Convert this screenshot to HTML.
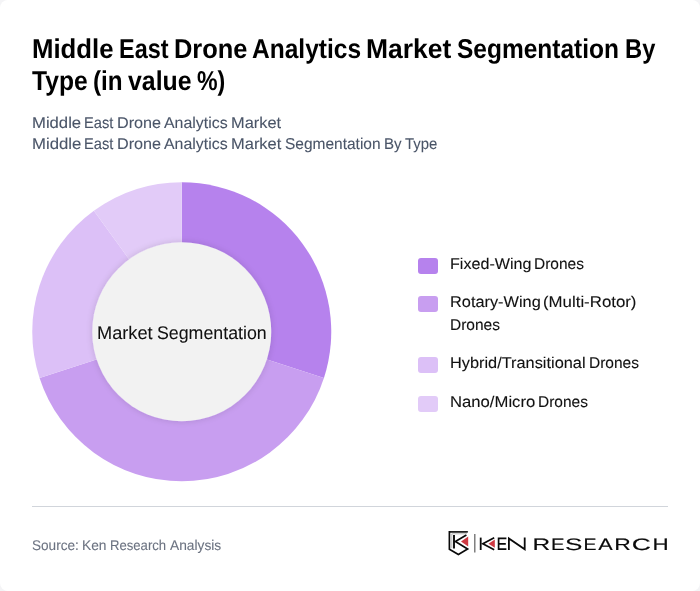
<!DOCTYPE html>
<html>
<head>
<meta charset="utf-8">
<style>
*{margin:0;padding:0;box-sizing:border-box;}
html,body{width:700px;height:591px;overflow:hidden;background:#f4f4f6;}
body{font-family:"Liberation Sans",sans-serif;position:relative;text-rendering:geometricPrecision;}
.card{position:absolute;left:0;top:0;width:700px;height:591px;background:#fff;border-radius:8px;}
.t{position:absolute;white-space:nowrap;line-height:1;}
#wrap{position:absolute;left:0;top:0;width:700px;height:591px;will-change:transform;}
.title1,.title2,#title1,#title2{font-weight:bold;color:#000;}
#sub1,#sub2,.sub1,.sub2{color:#4a5568;}
#leg1,#leg2a,#leg2b,#leg3,#leg4,.leg1,.leg2a,.leg2b,.leg3,.leg4{color:#111;}
#center,.center{color:#111;}
#source,.source{color:#6b7280;}
.sq{position:absolute;left:418px;width:20px;height:16px;border-radius:3px;}
.hr{position:absolute;left:32px;top:506px;width:636px;height:1px;background:#d1d5db;}
</style>
</head>
<body>
<div id="wrap">
<div class="card"></div>
<svg style="position:absolute;left:0;top:0;" width="700" height="591" viewBox="0 0 700 591">
<defs>
<filter id="sh" x="-30%" y="-30%" width="160%" height="160%">
<feGaussianBlur in="SourceAlpha" stdDeviation="3.5"/>
<feComponentTransfer><feFuncA type="linear" slope="0.14"/></feComponentTransfer>
<feMerge><feMergeNode/><feMergeNode in="SourceGraphic"/></feMerge>
</filter>
</defs>
<path d="M181.75 331.75L181.75 182.25A149.5 149.5 0 0 1 323.93 377.95Z" fill="#b682ed"/>
<path d="M181.75 331.75L323.93 377.95A149.5 149.5 0 0 1 39.57 377.95Z" fill="#c89ef0"/>
<path d="M181.75 331.75L39.57 377.95A149.5 149.5 0 0 1 93.88 210.80Z" fill="#dcc0f7"/>
<path d="M181.75 331.75L93.88 210.80A149.5 149.5 0 0 1 181.75 182.25Z" fill="#e2cbf8"/>
<circle cx="181.75" cy="331.75" r="89.5" fill="#f2f2f2" filter="url(#sh)"/>
</svg>
<div class="sq" style="top:258px;background:#b682ed;"></div>
<div class="sq" style="top:296px;background:#c89ef0;"></div>
<div class="sq" style="top:357px;background:#dcc0f7;"></div>
<div class="sq" style="top:396px;background:#e2cbf8;"></div>
<div class="t title1" id="title1_0" style="left:31.61px;top:34.50px;font-size:27.2px;letter-spacing:0.000px;transform:scaleX(0.9475);transform-origin:0 0;">Middle</div>
<div class="t title1" id="title1_1" style="left:118.72px;top:34.50px;font-size:27.2px;letter-spacing:0.000px;transform:scaleX(0.8619);transform-origin:0 0;">East</div>
<div class="t title1" id="title1_2" style="left:173.61px;top:34.50px;font-size:27.2px;letter-spacing:0.000px;transform:scaleX(0.9351);transform-origin:0 0;">Drone</div>
<div class="t title1" id="title1_3" style="left:251.65px;top:34.50px;font-size:27.2px;letter-spacing:0.000px;transform:scaleX(0.9021);transform-origin:0 0;">Analytics</div>
<div class="t title1" id="title1_4" style="left:365.65px;top:34.50px;font-size:27.2px;letter-spacing:0.000px;transform:scaleX(0.9740);transform-origin:0 0;">Market</div>
<div class="t title1" id="title1_5" style="left:456.71px;top:34.50px;font-size:27.2px;letter-spacing:0.000px;transform:scaleX(0.9013);transform-origin:0 0;">Segmentation</div>
<div class="t title1" id="title1_6" style="left:624.73px;top:34.50px;font-size:27.2px;letter-spacing:0.000px;transform:scaleX(0.8724);transform-origin:0 0;">By</div>
<div class="t title2" id="title2_0" style="left:31.50px;top:66.70px;font-size:27.2px;letter-spacing:0.000px;transform:scaleX(0.9051);transform-origin:0 0;">Type</div>
<div class="t title2" id="title2_1" style="left:92.67px;top:66.70px;font-size:27.2px;letter-spacing:0.000px;transform:scaleX(0.8913);transform-origin:0 0;">(in</div>
<div class="t title2" id="title2_2" style="left:127.58px;top:66.70px;font-size:27.2px;letter-spacing:0.000px;transform:scaleX(0.9145);transform-origin:0 0;">value</div>
<div class="t title2" id="title2_3" style="left:196.50px;top:66.70px;font-size:27.2px;letter-spacing:0.000px;transform:scaleX(0.8520);transform-origin:0 0;">%)</div>
<div class="t sub1" id="sub1_0" style="left:31.72px;top:115.50px;font-size:15.7px;letter-spacing:0.000px;transform:scaleX(1.0630);transform-origin:0 0;-webkit-text-stroke:0.1px currentColor;">Middle</div>
<div class="t sub1" id="sub1_1" style="left:83.50px;top:115.50px;font-size:15.7px;letter-spacing:0.000px;transform:scaleX(0.9358);transform-origin:0 0;-webkit-text-stroke:0.1px currentColor;">East</div>
<div class="t sub1" id="sub1_2" style="left:116.67px;top:115.50px;font-size:15.7px;letter-spacing:0.000px;transform:scaleX(1.0326);transform-origin:0 0;-webkit-text-stroke:0.1px currentColor;">Drone</div>
<div class="t sub1" id="sub1_3" style="left:163.59px;top:115.50px;font-size:15.7px;letter-spacing:0.000px;transform:scaleX(1.0133);transform-origin:0 0;-webkit-text-stroke:0.1px currentColor;">Analytics</div>
<div class="t sub1" id="sub1_4" style="left:230.50px;top:115.50px;font-size:15.7px;letter-spacing:0.000px;transform:scaleX(1.0448);transform-origin:0 0;-webkit-text-stroke:0.1px currentColor;">Market</div>
<div class="t sub2" id="sub2_0" style="left:31.72px;top:136.50px;font-size:15.7px;letter-spacing:0.000px;transform:scaleX(1.0678);transform-origin:0 0;-webkit-text-stroke:0.1px currentColor;">Middle</div>
<div class="t sub2" id="sub2_1" style="left:83.50px;top:136.50px;font-size:15.7px;letter-spacing:0.000px;transform:scaleX(0.9357);transform-origin:0 0;-webkit-text-stroke:0.1px currentColor;">East</div>
<div class="t sub2" id="sub2_2" style="left:116.67px;top:136.50px;font-size:15.7px;letter-spacing:0.000px;transform:scaleX(1.0327);transform-origin:0 0;-webkit-text-stroke:0.1px currentColor;">Drone</div>
<div class="t sub2" id="sub2_3" style="left:163.60px;top:136.50px;font-size:15.7px;letter-spacing:0.000px;transform:scaleX(1.0131);transform-origin:0 0;-webkit-text-stroke:0.1px currentColor;">Analytics</div>
<div class="t sub2" id="sub2_4" style="left:230.50px;top:136.50px;font-size:15.7px;letter-spacing:0.000px;transform:scaleX(1.0501);transform-origin:0 0;-webkit-text-stroke:0.1px currentColor;">Market</div>
<div class="t sub2" id="sub2_5" style="left:284.58px;top:136.50px;font-size:15.7px;letter-spacing:0.000px;transform:scaleX(0.9871);transform-origin:0 0;-webkit-text-stroke:0.1px currentColor;">Segmentation</div>
<div class="t sub2" id="sub2_6" style="left:383.67px;top:136.50px;font-size:15.7px;letter-spacing:0.000px;transform:scaleX(0.9623);transform-origin:0 0;-webkit-text-stroke:0.1px currentColor;">By</div>
<div class="t sub2" id="sub2_7" style="left:404.55px;top:136.50px;font-size:15.7px;letter-spacing:0.000px;transform:scaleX(0.9495);transform-origin:0 0;-webkit-text-stroke:0.1px currentColor;">Type</div>
<div class="t leg1" id="leg1_0" style="left:449.50px;top:257.20px;font-size:15.6px;letter-spacing:0.000px;transform:scaleX(1.0332);transform-origin:0 0;-webkit-text-stroke:0.1px currentColor;">Fixed-Wing</div>
<div class="t leg1" id="leg1_1" style="left:533.63px;top:257.20px;font-size:15.6px;letter-spacing:0.000px;transform:scaleX(0.9935);transform-origin:0 0;-webkit-text-stroke:0.1px currentColor;">Drones</div>
<div class="t leg2a" id="leg2a_0" style="left:449.50px;top:295.20px;font-size:15.6px;letter-spacing:0.000px;transform:scaleX(1.0476);transform-origin:0 0;-webkit-text-stroke:0.1px currentColor;">Rotary-Wing</div>
<div class="t leg2a" id="leg2a_1" style="left:542.55px;top:295.20px;font-size:15.6px;letter-spacing:0.000px;transform:scaleX(1.0789);transform-origin:0 0;-webkit-text-stroke:0.1px currentColor;">(Multi-Rotor)</div>
<div class="t leg2b" id="leg2b_0" style="left:449.50px;top:318.20px;font-size:15.6px;letter-spacing:0.000px;transform:scaleX(0.9938);transform-origin:0 0;-webkit-text-stroke:0.1px currentColor;">Drones</div>
<div class="t leg3" id="leg3_0" style="left:449.59px;top:355.90px;font-size:15.6px;letter-spacing:0.000px;transform:scaleX(1.0472);transform-origin:0 0;-webkit-text-stroke:0.1px currentColor;">Hybrid/Transitional</div>
<div class="t leg3" id="leg3_1" style="left:588.50px;top:355.90px;font-size:15.6px;letter-spacing:0.000px;transform:scaleX(0.9939);transform-origin:0 0;-webkit-text-stroke:0.1px currentColor;">Drones</div>
<div class="t leg4" id="leg4_0" style="left:449.59px;top:395.20px;font-size:15.6px;letter-spacing:0.000px;transform:scaleX(1.0695);transform-origin:0 0;-webkit-text-stroke:0.1px currentColor;">Nano/Micro</div>
<div class="t leg4" id="leg4_1" style="left:537.50px;top:395.20px;font-size:15.6px;letter-spacing:0.000px;transform:scaleX(0.9927);transform-origin:0 0;-webkit-text-stroke:0.1px currentColor;">Drones</div>
<div class="t center" id="center_0" style="left:96.62px;top:324.20px;font-size:18.3px;letter-spacing:0.000px;transform:scaleX(0.9964);transform-origin:0 0;-webkit-text-stroke:0.1px currentColor;text-shadow:0 0 1.2px #fff,0 0 1.2px #fff,0 0 1.2px #fff,0 0 1.2px #fff;">Market</div>
<div class="t center" id="center_1" style="left:156.61px;top:324.20px;font-size:18.3px;letter-spacing:0.000px;transform:scaleX(0.9722);transform-origin:0 0;-webkit-text-stroke:0.1px currentColor;text-shadow:0 0 1.2px #fff,0 0 1.2px #fff,0 0 1.2px #fff,0 0 1.2px #fff;">Segmentation</div>
<div class="t source" id="source_0" style="left:31.55px;top:537.70px;font-size:14.0px;letter-spacing:0.000px;transform:scaleX(0.9708);transform-origin:0 0;-webkit-text-stroke:0.1px currentColor;">Source:</div>
<div class="t source" id="source_1" style="left:81.67px;top:537.70px;font-size:14.0px;letter-spacing:0.000px;transform:scaleX(0.9821);transform-origin:0 0;-webkit-text-stroke:0.1px currentColor;">Ken</div>
<div class="t source" id="source_2" style="left:109.68px;top:537.70px;font-size:14.0px;letter-spacing:0.000px;transform:scaleX(0.9368);transform-origin:0 0;-webkit-text-stroke:0.1px currentColor;">Research</div>
<div class="t source" id="source_3" style="left:169.61px;top:537.70px;font-size:14.0px;letter-spacing:0.000px;transform:scaleX(0.9826);transform-origin:0 0;-webkit-text-stroke:0.1px currentColor;">Analysis</div>
<div class="hr"></div>
<svg style="position:absolute;left:0;top:0;will-change:transform;" width="700" height="591" viewBox="0 0 700 591">
<g fill="none" stroke="#0a0a0a" stroke-linecap="butt" stroke-linejoin="miter">
<path d="M449.2 531.9H467.9" stroke-width="1.6"/>
<path d="M449.4 531.1V549.2L458.4 554.6L467.6 549.0L455.4 541.6L466.4 535.0" stroke-width="1.7"/>
<path d="M454.0 535.1V548.4" stroke-width="1.9"/>
<path d="M451.8 548.2V533.8H466.2L467.8 531.8" stroke="#9a9a9a" stroke-width="0.7"/>
<path d="M474.8 534.1V552.6" stroke="#6a6a6a" stroke-width="1.3"/>
<path d="M480.7 537.6V550" stroke-width="1.8"/>
<path d="M494.2 537.8L482.8 543.8L494.2 549.8" stroke-width="1.7"/>
<path d="M506.4 538.4H498.6V549.2H506.4M498.6 543.8H505.8" stroke-width="1.7"/>
<path d="M508.9 550V538.4L524.7 549.2V537.6" stroke-width="1.8"/>
</g>
<path d="M461 541.6L468.2 536.5V546.5Z" fill="#cf3a43"/>
<path d="M488.5 543.7L494.8 539.6V547.7Z" fill="#cf3a43"/>
<g font-family="Liberation Sans" font-size="16.6" fill="#0a0a0a" stroke="#0a0a0a" stroke-width="0.15"><text x="532.50" y="549.8" textLength="17.69" lengthAdjust="spacingAndGlyphs">R</text><text x="550.94" y="549.8" textLength="13.56" lengthAdjust="spacingAndGlyphs">E</text><text x="565.12" y="549.8" textLength="17.40" lengthAdjust="spacingAndGlyphs">S</text><text x="583.50" y="549.8" textLength="13.00" lengthAdjust="spacingAndGlyphs">E</text><text x="598.37" y="549.8" textLength="14.45" lengthAdjust="spacingAndGlyphs">A</text><text x="614.33" y="549.8" textLength="16.54" lengthAdjust="spacingAndGlyphs">R</text><text x="631.67" y="549.8" textLength="19.15" lengthAdjust="spacingAndGlyphs">C</text><text x="652.45" y="549.8" textLength="16.16" lengthAdjust="spacingAndGlyphs">H</text></g>
</svg>
</div>
</body>
</html>
